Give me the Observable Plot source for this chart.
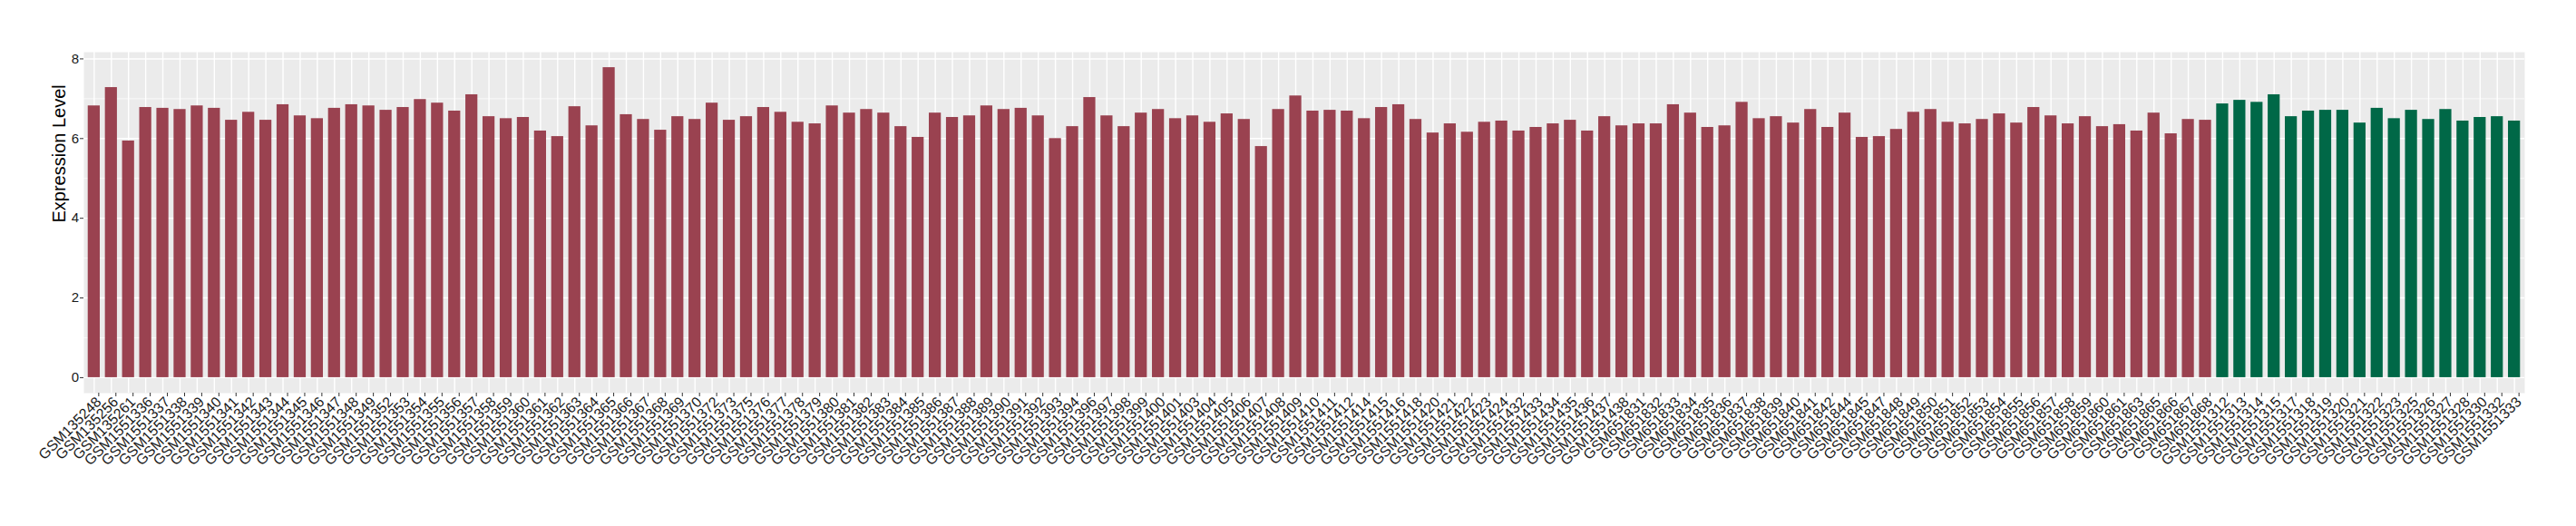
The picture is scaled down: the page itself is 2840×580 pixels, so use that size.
<!DOCTYPE html>
<html>
<head>
<meta charset="utf-8">
<script src="https://cdn.jsdelivr.net/npm/d3@7"></script>
<script src="https://cdn.jsdelivr.net/npm/@observablehq/plot@0.6"></script>
<style>
  html, body { margin: 0; padding: 0; background: #ffffff; }
  svg { display: block; }
</style>
</head>
<body>
<div id="chart"></div>
<script>
// Group 1 (dark red) samples and values
const redSamples = [
  "GSM135248","GSM135256","GSM135261","GSM1551336","GSM1551337","GSM1551338","GSM1551339","GSM1551340",
  "GSM1551341","GSM1551342","GSM1551343","GSM1551344","GSM1551345","GSM1551346","GSM1551347","GSM1551348",
  "GSM1551349","GSM1551352","GSM1551353","GSM1551354","GSM1551355","GSM1551356","GSM1551357","GSM1551358",
  "GSM1551359","GSM1551360","GSM1551361","GSM1551362","GSM1551363","GSM1551364","GSM1551365","GSM1551366",
  "GSM1551367","GSM1551368","GSM1551369","GSM1551370","GSM1551372","GSM1551373","GSM1551375","GSM1551376",
  "GSM1551377","GSM1551378","GSM1551379","GSM1551380","GSM1551381","GSM1551382","GSM1551383","GSM1551384",
  "GSM1551385","GSM1551386","GSM1551387","GSM1551388","GSM1551389","GSM1551390","GSM1551391","GSM1551392",
  "GSM1551393","GSM1551394","GSM1551396","GSM1551397","GSM1551398","GSM1551399","GSM1551400","GSM1551401",
  "GSM1551403","GSM1551404","GSM1551405","GSM1551406","GSM1551407","GSM1551408","GSM1551409","GSM1551410",
  "GSM1551411","GSM1551412","GSM1551414","GSM1551415","GSM1551416","GSM1551418","GSM1551420","GSM1551421",
  "GSM1551422","GSM1551423","GSM1551424","GSM1551432","GSM1551433","GSM1551434","GSM1551435","GSM1551436",
  "GSM1551437","GSM1551438","GSM651831","GSM651832","GSM651833","GSM651834","GSM651835","GSM651836",
  "GSM651837","GSM651838","GSM651839","GSM651840","GSM651841","GSM651842","GSM651844","GSM651845",
  "GSM651847","GSM651848","GSM651849","GSM651850","GSM651851","GSM651852","GSM651853","GSM651854",
  "GSM651855","GSM651856","GSM651857","GSM651858","GSM651859","GSM651860","GSM651861","GSM651863",
  "GSM651865","GSM651866","GSM651867","GSM651868"
];
const redValues = [
  6.82,7.28,5.94,6.78,6.76,6.73,6.82,6.76,
  6.46,6.66,6.46,6.85,6.57,6.50,6.76,6.85,
  6.82,6.71,6.78,6.98,6.89,6.69,7.10,6.55,
  6.50,6.53,6.19,6.05,6.80,6.32,7.78,6.60,
  6.48,6.21,6.55,6.48,6.89,6.46,6.55,6.78,
  6.66,6.41,6.37,6.82,6.64,6.73,6.64,6.30,
  6.03,6.64,6.53,6.57,6.82,6.73,6.76,6.57,
  6.00,6.30,7.03,6.57,6.30,6.64,6.73,6.50,
  6.57,6.41,6.62,6.48,5.80,6.73,7.07,6.69,
  6.71,6.69,6.50,6.78,6.85,6.48,6.14,6.37,
  6.16,6.41,6.44,6.19,6.28,6.37,6.46,6.19,
  6.55,6.32,6.37,6.37,6.85,6.64,6.28,6.32,
  6.91,6.50,6.55,6.39,6.73,6.28,6.64,6.03,
  6.05,6.23,6.66,6.73,6.41,6.37,6.48,6.62,
  6.39,6.78,6.57,6.37,6.55,6.30,6.35,6.19,
  6.64,6.12,6.48,6.46
];
// Group 2 (dark green) samples and values
const greenSamples = [
  "GSM1551312","GSM1551313","GSM1551314","GSM1551315","GSM1551317","GSM1551318","GSM1551319","GSM1551320",
  "GSM1551321","GSM1551322","GSM1551323","GSM1551325","GSM1551326","GSM1551327","GSM1551328","GSM1551330",
  "GSM1551332","GSM1551333"
];
const greenValues = [
  6.87,6.96,6.91,7.10,6.55,6.69,6.71,6.71,
  6.39,6.76,6.50,6.71,6.48,6.73,6.44,6.53,
  6.55,6.44
];
const groupNames = ["group1", "group2"];
const groupColors = ["#9A4250", "#006847"];
const yTicks = [0, 2, 4, 6, 8];
const yMinorTicks = [1, 3, 5, 7];
const yTitle = "Expression Level";

const data = [
  ...redSamples.map((s, i) => ({sample: s, value: redValues[i], group: groupNames[0]})),
  ...greenSamples.map((s, i) => ({sample: s, value: greenValues[i], group: groupNames[1]}))
];
const samples = data.map(d => d.sample);
const ymax = d3.max(data, d => d.value);
const pad = ymax * 0.05;

const chart = Plot.plot({
  width: 2840,
  height: 580,
  marginLeft: 92,
  marginRight: 57,
  marginTop: 57,
  marginBottom: 147,
  style: {fontFamily: "'Liberation Sans', Arial, sans-serif", background: "#ffffff", color: "#1a1a1a"},
  x: {domain: samples, paddingInner: 0.3, paddingOuter: 0.25, label: null},
  y: {domain: [-pad, ymax + pad], label: null},
  color: {domain: groupNames, range: groupColors},
  marks: [
    Plot.frame({fill: "#EBEBEB", stroke: "none"}),
    Plot.gridY(yMinorTicks, {stroke: "#ffffff", strokeOpacity: 1, strokeWidth: 0.7}),
    Plot.gridY(yTicks, {stroke: "#ffffff", strokeOpacity: 1, strokeWidth: 1.4}),
    Plot.gridX(samples, {stroke: "#ffffff", strokeOpacity: 1, strokeWidth: 1.4}),
    Plot.barY(data, {x: "sample", y: "value", fill: "group"}),
    Plot.axisY(yTicks, {tickSize: 4, tickPadding: 1.5, fontSize: 15, stroke: "#333333", fill: "#1a1a1a", label: null}),
    Plot.axisX({tickRotate: -45, tickSize: 4, tickPadding: 3, fontSize: 16, stroke: "#333333", fill: "#1a1a1a", label: null, dx: 5}),
    Plot.text([yTitle], {text: d => d, frameAnchor: "left", dx: -27, rotate: -90, fontSize: 20, fill: "#000000"})
  ]
});
document.getElementById("chart").appendChild(chart);
</script>
</body>
</html>
